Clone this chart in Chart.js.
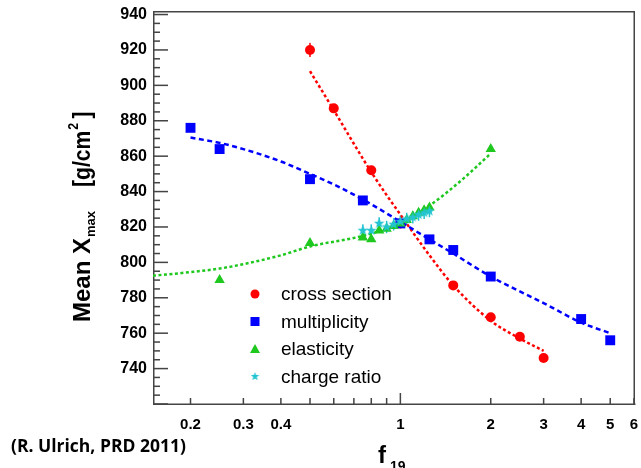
<!DOCTYPE html>
<html>
<head>
<meta charset="utf-8">
<script src="https://cdn.jsdelivr.net/npm/chart.js@4.4.1/dist/chart.umd.min.js"></script>
<style>
  html, body { margin: 0; padding: 0; background: #fff; }
  #wrap { position: relative; width: 641px; height: 468px; }
</style>
</head>
<body>
<div id="wrap"><canvas id="c" width="641" height="468"></canvas></div>
<script>
// mean Xmax [g/cm2] vs. f19 scaling factor, one series per modified hadronic property
const XS_F = [0.5, 0.6, 0.8, 1, 1.5, 2, 2.5, 3];
const XS_Y = [920, 887, 852, 822, 787, 769, 758, 746];
const XS_ERR = [4, 0, 0, 0, 0, 0, 0, 0];

const MULT_F = [0.2, 0.25, 0.5, 0.75, 1, 1.25, 1.5, 2, 4, 5];
const MULT_Y = [876, 864, 847, 835, 822, 813, 807, 792, 768, 756];

const ELAS_F = [0.25, 0.5, 0.75, 0.8, 0.85, 0.9, 0.95, 1, 1.05, 1.1, 1.15, 1.2, 1.25, 2];
const ELAS_Y = [790, 811, 814, 813, 818, 819, 820.5, 822, 824, 826, 828, 829.5, 831, 864];

const CHG_F = [0.75, 0.8, 0.85, 0.9, 0.95, 1, 1.05, 1.1, 1.15, 1.2, 1.25];
const CHG_Y = [818, 818, 822, 820, 821.5, 823, 824.5, 825.5, 827, 828, 829];
const CHG_ERR = [3.5, 3.5, 3.5, 3.5, 3.5, 3.5, 3.5, 3.5, 3.5, 3.5, 3.5];

// fitted curves (dashed)
const XS_FIT_F = [0.5, 0.6, 0.7, 0.8, 0.9, 1, 1.1, 1.25, 1.5, 2, 2.5, 3];
const XS_FIT_Y = [908, 886, 867, 851, 838, 827, 817, 804, 787, 767, 757, 750];
const MULT_FIT_F = [0.2, 0.25, 0.3, 0.4, 0.5, 0.6, 0.75, 1, 1.25, 1.5, 2, 3, 4, 5];
const MULT_FIT_Y = [870.5, 867.5, 864, 857, 850, 844, 835.5, 823, 813, 805, 792, 777, 766, 760];
const ELAS_FIT_F = [0.15, 0.2, 0.25, 0.3, 0.4, 0.5, 0.75, 1, 1.25, 1.6, 2];
const ELAS_FIT_Y = [792.5, 794.5, 796.5, 799, 804, 809, 815, 822, 832, 846.5, 861.5];

// axes
const X_MIN = 0.15, X_MAX = 6, Y_MIN = 720, Y_MAX = 942;
const X_TICKS = [0.2, 0.3, 0.4, 0.5, 0.6, 0.7, 0.8, 0.9, 1, 2, 3, 4, 5, 6];
const X_LABELS = [0.2, 0.3, 0.4, 1, 2, 3, 4, 5, 6];
const Y_TICKS = [740, 760, 780, 800, 820, 840, 860, 880, 900, 920, 940];

const RED = "#ff0000", BLUE = "#0000ff", GREEN = "#1ec81e", CYAN = "#22c4d2";
const FRAME = "#444444";
const HELV = "'Liberation Sans', Arial, sans-serif";

const pts = (xs, ys) => xs.map((x, i) => ({ x, y: ys[i] }));

// filled five-pointed star, used as point style
function makeStar(size, color) {
  const cv = document.createElement("canvas");
  cv.width = size; cv.height = size;
  const g = cv.getContext("2d");
  const c = size / 2, ro = size / 2, ri = ro * 0.42;
  g.beginPath();
  for (let k = 0; k < 10; k++) {
    const r = k % 2 ? ri : ro;
    const a = -Math.PI / 2 + k * Math.PI / 5;
    g.lineTo(c + r * Math.cos(a), c + r * Math.sin(a));
  }
  g.closePath();
  g.fillStyle = color;
  g.fill();
  return cv;
}
const STAR = makeStar(11, CYAN);
const STAR_SMALL = makeStar(9, CYAN);

// frame, inward tick marks and vertical error bars, all under the markers
const underlay = {
  id: "underlay",
  beforeDatasetsDraw(chart) {
    const ctx = chart.ctx;
    const xs = chart.scales.x, ys = chart.scales.y;
    ctx.save();

    const L = Math.round(xs.getPixelForValue(X_MIN)), R = Math.round(xs.getPixelForValue(X_MAX));
    const T = Math.round(ys.getPixelForValue(Y_MAX)), B = Math.round(ys.getPixelForValue(Y_MIN));
    const w = 1.5;
    ctx.fillStyle = FRAME;
    ctx.fillRect(L, T, R - L, w);
    ctx.fillRect(L, B - 0.5, R - L + w, w);
    ctx.fillRect(L, T, w, B - T);
    ctx.fillRect(R - 0.5, T, w, B - T);
    for (let v = Y_MIN; v <= 940; v += 5) {
      const py = ys.getPixelForValue(v);
      ctx.fillRect(L, py - w / 2, v % 20 === 0 ? 15 : 7, w);
    }
    X_TICKS.forEach(v => {
      const px = xs.getPixelForValue(v);
      const len = v === 1 ? 11 : 6;
      ctx.fillRect(px - w / 2, B - len, w, len);
    });

    chart.data.datasets.forEach(ds => {
      if (!ds.errY) return;
      ctx.fillStyle = ds.errColor;
      ds.data.forEach((p, i) => {
        const e = ds.errY[i];
        if (!e) return;
        const px = xs.getPixelForValue(p.x);
        const y1 = ys.getPixelForValue(p.y + e), y2 = ys.getPixelForValue(p.y - e);
        ctx.fillRect(px - 0.75, y1, 1.5, y2 - y1);
      });
    });
    ctx.restore();
  }
};

function drawLegend(chart) {
  const ctx = chart.ctx;
  const rows = chart.data.datasets.filter(d => d.inLegend);
  rows.forEach((d, i) => {
    const ly = 294 + i * 27.5, lx = 255;
    ctx.fillStyle = d.backgroundColor;
    ctx.beginPath();
    if (d.pointStyle === "circle") {
      ctx.arc(lx, ly, 4.5, 0, Math.PI * 2); ctx.fill();
    } else if (d.pointStyle === "rect") {
      ctx.fillRect(lx - 4.5, ly - 4.5, 9, 9);
    } else if (d.pointStyle === "triangle") {
      ctx.moveTo(lx, ly - 5); ctx.lineTo(lx + 5, ly + 4); ctx.lineTo(lx - 5, ly + 4); ctx.closePath(); ctx.fill();
    } else {
      ctx.drawImage(STAR_SMALL, lx - 4.5, ly - 4.5);
    }
    ctx.fillStyle = "#000";
    ctx.font = "19px " + HELV;
    ctx.textBaseline = "middle";
    ctx.fillText(d.label, 281, ly + 1);
  });
}

function drawTitles(ctx) {
  ctx.fillStyle = "#000";
  // y title, rotated
  ctx.save();
  ctx.translate(90, 322);
  ctx.rotate(-Math.PI / 2);
  ctx.textBaseline = "alphabetic";
  ctx.font = "bold 24px " + HELV;
  ctx.fillText("Mean X", 0, 0);
  let tx = ctx.measureText("Mean X").width + 1;
  ctx.font = "bold 13px " + HELV;
  ctx.fillText("max", tx, 5);
  ctx.translate(135, 0);
  ctx.scale(0.88, 1);
  ctx.font = "bold 24px " + HELV;
  ctx.fillText("[g/cm", 0, 0);
  tx = ctx.measureText("[g/cm").width + 1;
  ctx.font = "bold 14px " + HELV;
  ctx.fillText("2", tx, -12);
  tx += ctx.measureText("2").width + 5;
  ctx.font = "bold 24px " + HELV;
  ctx.fillText("]", tx, 0);
  ctx.restore();

  // x title
  ctx.textBaseline = "alphabetic";
  ctx.font = "bold 24px " + HELV;
  ctx.fillText("f", 378, 463);
  ctx.font = "bold 14px " + HELV;
  ctx.fillText("19", 390, 471);

  ctx.font = "bold 17.5px 'Open Sans', sans-serif";
  ctx.fillText("(R. Ulrich, PRD 2011)", 11, 452);
}

const overlay = {
  id: "overlay",
  afterDraw(chart) {
    const ctx = chart.ctx;
    ctx.save();
    drawLegend(chart);
    drawTitles(ctx);
    ctx.restore();
  }
};

const fitLine = (data, color, dash, order) => ({
  label: "fit", data, showLine: true, pointRadius: 0, borderColor: color,
  borderWidth: 2.5, borderDash: dash, cubicInterpolationMode: "monotone", order
});

const noPad = s => { s.paddingLeft = 0; s.paddingRight = 0; s.paddingTop = 0; s.paddingBottom = 0; };
const axisBorder = { display: true, color: FRAME, width: 1 };

new Chart(document.getElementById("c"), {
  type: "scatter",
  data: {
    datasets: [
      { label: "cross section", inLegend: true, data: pts(XS_F, XS_Y), errY: XS_ERR, errColor: RED,
        pointStyle: "circle", pointRadius: 5, backgroundColor: RED, borderColor: RED, borderWidth: 0, order: 4 },
      { label: "multiplicity", inLegend: true, data: pts(MULT_F, MULT_Y),
        pointStyle: "rect", pointRadius: 7, backgroundColor: BLUE, borderColor: BLUE, borderWidth: 0, order: 3 },
      { label: "elasticity", inLegend: true, data: pts(ELAS_F, ELAS_Y),
        pointStyle: "triangle", pointRadius: 6, backgroundColor: GREEN, borderColor: GREEN, borderWidth: 0, order: 2 },
      { label: "charge ratio", inLegend: true, data: pts(CHG_F, CHG_Y), errY: CHG_ERR, errColor: CYAN,
        pointStyle: STAR, pointRadius: 5, backgroundColor: CYAN, borderColor: CYAN, borderWidth: 0, order: 1 },
      fitLine(pts(XS_FIT_F, XS_FIT_Y), RED, [3, 2.5], 7),
      fitLine(pts(MULT_FIT_F, MULT_FIT_Y), BLUE, [5, 3.5], 6),
      fitLine(pts(ELAS_FIT_F, ELAS_FIT_Y), GREEN, [3, 2.5], 5),
    ]
  },
  options: {
    responsive: false,
    animation: false,
    devicePixelRatio: 1,
    layout: { padding: { top: 11, right: 5, left: 0, bottom: 0 } },
    plugins: { legend: { display: false }, tooltip: { enabled: false } },
    scales: {
      x: {
        type: "logarithmic", min: X_MIN, max: X_MAX,
        grid: { display: false, drawTicks: false }, border: axisBorder,
        afterBuildTicks: s => { s.ticks = X_TICKS.map(v => ({ value: v })); },
        afterFit: s => { s.height = 64; noPad(s); },
        ticks: {
          autoSkip: false, maxRotation: 0, padding: 12, color: "#000",
          font: { family: HELV, size: 15, weight: "bold" },
          callback: v => X_LABELS.includes(v) ? String(v) : ""
        }
      },
      y: {
        type: "linear", min: Y_MIN, max: Y_MAX,
        grid: { display: false, drawTicks: false }, border: axisBorder,
        afterBuildTicks: s => { s.ticks = Y_TICKS.map(v => ({ value: v })); },
        afterFit: s => { s.width = 153; noPad(s); },
        ticks: { padding: 6, color: "#000", font: { family: HELV, size: 16, weight: "bold" } }
      },
      // top and right edges of the frame
      x2: {
        type: "logarithmic", position: "top", min: X_MIN, max: X_MAX,
        grid: { display: false, drawTicks: false }, border: axisBorder,
        ticks: { display: false },
        afterFit: s => { s.height = 0; noPad(s); }
      },
      y2: {
        type: "linear", position: "right", min: Y_MIN, max: Y_MAX,
        grid: { display: false, drawTicks: false }, border: axisBorder,
        ticks: { display: false },
        afterFit: s => { s.width = 0; noPad(s); }
      }
    }
  },
  plugins: [underlay, overlay]
});
</script>
</body>
</html>
